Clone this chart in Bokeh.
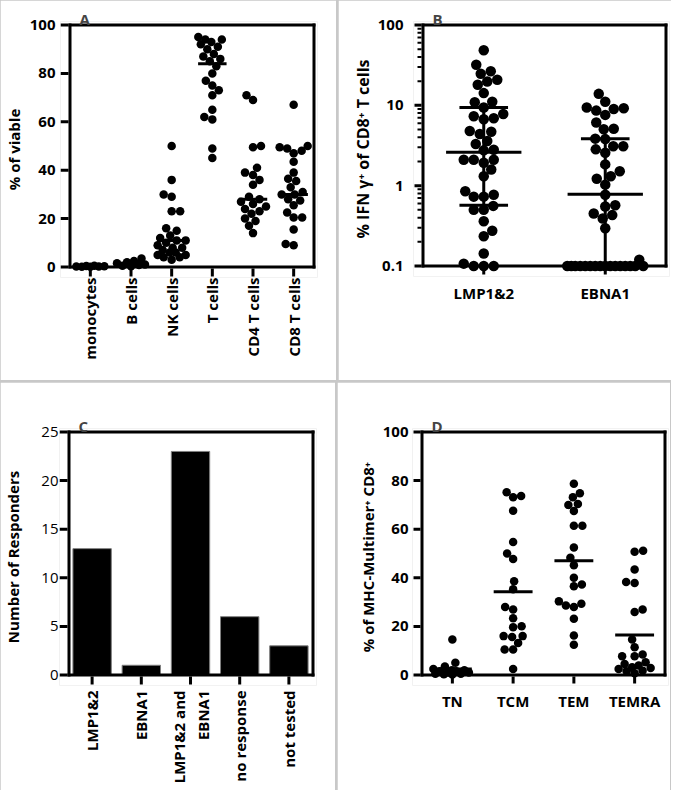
import numpy as np
from bokeh.plotting import figure
from bokeh.models import FixedTicker, Range1d
from bokeh.layouts import row, column
from bokeh.embed import file_html
from bokeh.resources import INLINE

FONT = "Open Sans"

# ---------------- Panel A data ----------------
cats_A = ["monocytes", "B cells", "NK cells", "T cells", "CD4 T cells", "CD8 T cells"]
monocytes = [0.5, 0.4, 0.3, 0.2, 0.2, 0.1, 0.1]
b_cells = [3.5, 2.5, 2.0, 1.5, 1.0, 0.8, 0.5, 0.3]
nk_cells = [50, 36, 30, 29, 23, 23, 16, 15, 13, 12, 11, 11, 10, 9, 8, 8, 7, 6, 6, 5, 5, 4, 4, 3]
t_cells = [95, 94, 94, 93, 92, 91, 90, 88, 87, 86, 85, 83, 80, 77, 75, 73, 71, 65, 62, 61, 49, 45]
cd4_t = [71, 69, 50, 49.5, 41, 39, 38, 36, 34, 29, 28, 27, 26, 25, 24, 23, 22, 20, 19, 17, 14]
cd8_t = [67, 50, 49.5, 49, 48, 47, 43.5, 39, 36.5, 35.5, 33, 31, 30, 30, 28, 27.5, 25.5, 22.5,
         20.5, 20.5, 15.5, 9.5, 9]
medians_A = [0.2, 1.0, 11, 84, 28, 30]
yticks_A = [0, 20, 40, 60, 80, 100]

# ---------------- Panel B data (log scale) ----------------
cats_B = ["LMP1&2", "EBNA1"]
lmp12 = [48.5, 32, 26.5, 24.7, 20.8, 19.8, 18, 14.2, 11.1, 10.9, 9.4, 7.8, 7.3, 6.9, 6.7, 4.8, 4.7,
         4.4, 3.6, 3.3, 2.8, 2.75, 2.1, 2.1, 2.1, 1.93, 1.59, 1.31, 0.85, 0.77, 0.73, 0.73, 0.56,
         0.5, 0.5, 0.36, 0.275, 0.235, 0.143, 0.107, 0.1, 0.1, 0.1]
ebna1 = [13.9, 11.1, 9.4, 9.2, 9.0, 8.6, 7.6, 6.1, 5.1, 5.05, 3.85, 3.8, 3.1, 3.1, 2.83, 2.57, 1.84,
         1.51, 1.31, 1.22, 1.03, 0.77, 0.57, 0.55, 0.45, 0.43, 0.39, 0.295, 0.12,
         0.1, 0.1, 0.1, 0.1, 0.1, 0.1, 0.1, 0.1, 0.1, 0.1, 0.1, 0.1, 0.1, 0.1, 0.1, 0.1]
medians_B = [2.6, 0.78]
q1_B = [0.57, 0.1]
q3_B = [9.4, 3.85]
yticks_B = [0.1, 1, 10, 100]
yticklabels_B = ["0.1", "1", "10", "100"]

# ---------------- Panel C data ----------------
cats_C = ["LMP1&2", "EBNA1", "LMP1&2 and\nEBNA1", "no response", "not tested"]
responders = [13, 1, 23, 6, 3]
yticks_C = [0, 5, 10, 15, 20, 25]

# ---------------- Panel D data ----------------
cats_D = ["TN", "TCM", "TEM", "TEMRA"]
tn = [14.6, 5.0, 3.5, 2.5, 2.0, 2.0, 1.5, 1.5, 1.0, 1.0, 0.5, 0.5, 0.3, 0.2]
tcm = [75.2, 73.7, 73.1, 67.6, 54.7, 50, 47.7, 38.6, 35.3, 28, 27, 23.4, 20.1, 19.7, 16, 16, 15.6,
       13.2, 10.5, 10.5, 2.5]
tem = [78.7, 74.8, 73.1, 70.4, 70, 67.5, 61.4, 61.4, 52.5, 48.2, 45.2, 40, 37.2, 36.5, 30.3, 29.3,
       28.6, 28, 23.1, 16.3, 12.4]
temra = [51.1, 50.7, 43.4, 38.3, 37.9, 27, 25.9, 14.6, 11.4, 8.4, 7.7, 7.7, 5.2, 4.5, 3.9, 3.2, 2.9,
         2.5, 1.8, 1.5, 0.7]
means_D = [2.5, 34.3, 47, 16.5]
yticks_D = [0, 20, 40, 60, 80, 100]


def swarm_offsets(ys, diam, max_half, step=0.5):
    """Deterministic beeswarm: horizontal pixel offsets for points at pixel heights ys."""
    order = sorted(range(len(ys)), key=lambda i: ys[i])
    cands = np.arange(-max_half, max_half + 1e-9, step)
    px, py = [], []
    out = [0.0] * len(ys)
    for i in order:
        y = ys[i]
        if px:
            ax, ay = np.array(px), np.array(py)
            dmin = np.array([np.min(np.hypot(c - ax, y - ay)) for c in cands])
            bal = int(np.sum(ax < -0.1) - np.sum(ax > 0.1))
        else:
            dmin = np.full(len(cands), np.inf)
            bal = 0
        ok = np.where(dmin >= diam)[0]
        if len(ok):
            k = min(ok, key=lambda k: (abs(cands[k]), (cands[k] < 0) if bal > 0 else (cands[k] > 0)))
        else:
            k = max(range(len(cands)), key=lambda k: (round(float(dmin[k]), 3), -abs(cands[k])))
        out[i] = float(cands[k])
        px.append(out[i])
        py.append(y)
    return out


class Panel:
    """A figure whose frame is padded around the drawn axis box, so that the box,
    its ticks and all points are drawn as glyphs through the figure's scales."""

    def __init__(self, letter, fig_w, fig_h, lx, rx, ty, by, xlim, ylim,
                 padL=9.5, padR=3.5, padT=3.5, padB=10.5):
        self.lx, self.rx, self.ty, self.by = lx, rx, ty, by
        self.fl, self.fr = lx - padL, rx + padR
        self.ft, self.fb = ty - padT, by + padB
        self.ppx = (rx - lx) / (xlim[1] - xlim[0])
        self.ppy = (by - ty) / (ylim[1] - ylim[0])
        self.xlim, self.ylim = xlim, ylim
        self.xs = xlim[0] - padL / self.ppx
        self.ys = ylim[0] - padB / self.ppy
        xe = xlim[1] + padR / self.ppx
        ye = ylim[1] + padT / self.ppy
        p = figure(frame_width=int(self.fr - self.fl), frame_height=int(self.fb - self.ft),
                   min_border_left=int(self.fl), min_border_right=int(fig_w - self.fr),
                   min_border_top=int(self.ft), min_border_bottom=int(fig_h - self.fb),
                   x_range=Range1d(self.xs, xe), y_range=Range1d(self.ys, ye),
                   output_backend="svg", toolbar_location=None, tools="", title=letter)
        p.xgrid.grid_line_color = None
        p.ygrid.grid_line_color = None
        p.outline_line_color = None
        p.title.text_font = FONT
        p.title.text_font_size = "15px"
        p.title.text_font_style = "bold"
        p.title.align = "left"
        p.title.offset = 19
        p.title.standoff = -15
        for ax in p.xaxis + p.yaxis:
            ax.major_label_text_font = FONT
            ax.major_label_text_font_size = "15px"
            ax.major_label_text_font_style = "bold"
            ax.major_label_text_color = "black"
            ax.axis_label_text_font = FONT
            ax.axis_label_text_font_size = "15px"
            ax.axis_label_text_font_style = "bold"
            ax.axis_label_text_color = "black"
            ax.axis_line_color = None
            ax.major_tick_line_color = None
            ax.major_tick_in = 0
            ax.major_tick_out = 0
            ax.minor_tick_line_color = None
        self.p = p
        self.rects = ([], [], [], [])

    # pixel <-> data (pixels are figure-local, y downwards)
    def X(self, px):
        return self.xs + (px - self.fl) / self.ppx

    def Y(self, py):
        return self.ys + (self.fb - py) / self.ppy

    def xp(self, x):
        return self.fl + (x - self.xs) * self.ppx

    def yp(self, y):
        return self.fb - (y - self.ys) * self.ppy

    def rect_px(self, x0, x1, y0, y1):
        L, R, B, T = self.rects
        L.append(self.X(x0))
        R.append(self.X(x1))
        T.append(self.Y(y0))
        B.append(self.Y(y1))

    def box_and_ticks(self, xticks, yticks, tick_len=7, minor=()):
        lx, rx, ty, by = self.lx, self.rx, self.ty, self.by
        self.rect_px(lx - 1.5, rx + 1.5, by - 1.5, by + 1.5)
        self.rect_px(lx - 1.5, rx + 1.5, ty - 1.5, ty + 1.5)
        self.rect_px(lx - 1.5, lx + 1.5, ty - 1.5, by + 1.5)
        self.rect_px(rx - 1.5, rx + 1.5, ty - 1.5, by + 1.5)
        for t in yticks:
            py = self.yp(t)
            self.rect_px(lx - 1.5 - tick_len, lx - 1.5, py - 1.5, py + 1.5)
        for m in minor:
            py = self.yp(m)
            self.rect_px(lx - 1.5 - 4, lx - 1.5, py - 1, py + 1)
        for c in xticks:
            px = self.xp(c)
            self.rect_px(px - 1.5, px + 1.5, by + 1.5, by + 1.5 + tick_len)

    def hbar_line(self, x, half, v, thick=3):
        px, py = self.xp(x), self.yp(v)
        self.rect_px(px - half * self.ppx, px + half * self.ppx, py - thick / 2, py + thick / 2)

    def vbar_line(self, x, v0, v1, thick=3):
        px = self.xp(x)
        self.rect_px(px - thick / 2, px + thick / 2, self.yp(v1), self.yp(v0))

    def scatter_groups(self, groups, diam, max_half):
        for i, vals in enumerate(groups):
            ys_px = [(v - self.ylim[0]) * self.ppy for v in vals]
            offs = swarm_offsets(ys_px, diam * 0.95, max_half)
            xs = [i + 1 + o / self.ppx for o in offs]
            self.p.scatter(xs, vals, size=diam, marker="circle", fill_color="black",
                           line_color=None)

    def finish(self):
        L, R, B, T = self.rects
        self.p.quad(left=L, right=R, bottom=B, top=T, fill_color="black", line_color=None)

    def axes(self, cats, yticks, ylabel, ylabels=None, vertical=False, x_standoff=5,
             y_standoff=5, ylab_standoff=3):
        xa, ya = self.p.xaxis[0], self.p.yaxis[0]
        xa.ticker = FixedTicker(ticks=list(range(1, len(cats) + 1)))
        xa.major_label_overrides = {i + 1: c for i, c in enumerate(cats)}
        xa.major_label_standoff = x_standoff
        if vertical:
            xa.major_label_orientation = np.pi / 2
        ya.ticker = FixedTicker(ticks=list(yticks))
        if ylabels is not None:
            ya.major_label_overrides = {t: l for t, l in zip(yticks, ylabels)}
        ya.major_label_standoff = y_standoff
        ya.axis_label = ylabel
        ya.axis_label_standoff = ylab_standoff
        return xa, ya


# ---------------- Panel A ----------------
A = Panel("A", 334, 380, 67.5, 311.5, 24.5, 266.5, (0.5, len(cats_A) + 0.5), (0, 100))
A.scatter_groups([monocytes, b_cells, nk_cells, t_cells, cd4_t, cd8_t], 8.5, 14)
for i, m in enumerate(medians_A):
    A.hbar_line(i + 1, 0.35, m)
A.box_and_ticks(range(1, len(cats_A) + 1), yticks_A, tick_len=8)
A.finish()
A.axes(cats_A, yticks_A, "% of viable", vertical=True, x_standoff=0, y_standoff=5,
       ylab_standoff=3)

# ---------------- Panel B (log10 values on a linear scale) ----------------
log_lmp = [float(np.log10(v)) for v in lmp12]
log_ebna = [float(np.log10(v)) for v in ebna1]
log_ticks_B = [float(np.log10(t)) for t in yticks_B]
minor_B = [float(np.log10(m * 10.0 ** k)) for k in (-1, 0, 1) for m in range(2, 10)]
B = Panel("B", 333, 380, 84.5, 327.5, 24.5, 265.5, (0.5, len(cats_B) + 0.5),
          (log_ticks_B[0], log_ticks_B[-1]))
B.scatter_groups([log_lmp, log_ebna], 10.5, 38)
for i in range(len(cats_B)):
    lq1, lq3 = float(np.log10(q1_B[i])), float(np.log10(q3_B[i]))
    B.vbar_line(i + 1, lq1, lq3)
    B.hbar_line(i + 1, 0.2, lq3)
    B.hbar_line(i + 1, 0.2, lq1)
    B.hbar_line(i + 1, 0.31, float(np.log10(medians_B[i])))
B.box_and_ticks(range(1, len(cats_B) + 1), log_ticks_B, tick_len=7, minor=minor_B)
B.finish()
B.axes(cats_B, log_ticks_B, "% IFN γ⁺ of CD8⁺ T cells", ylabels=yticklabels_B,
       x_standoff=6, y_standoff=10, ylab_standoff=1)
B.p.yaxis[0].axis_label_text_font_size = "16px"

# ---------------- Panel C ----------------
C = Panel("C", 334, 408, 67.5, 311.5, 49.5, 292.5, (0.53, 5.49), (0, 25))
C.p.vbar(x=list(range(1, len(cats_C) + 1)), top=responders, width=0.78, bottom=0,
         fill_color="black", line_color="#7f7f7f", line_width=1)
C.box_and_ticks(range(1, len(cats_C) + 1), yticks_C, tick_len=8)
C.finish()
xaC, yaC = C.axes(cats_C, yticks_C, "Number of Responders", vertical=True, x_standoff=5,
                  y_standoff=1, ylab_standoff=15)
yaC.major_label_text_font_style = "normal"

# ---------------- Panel D ----------------
D = Panel("D", 333, 408, 84.5, 327.5, 48.5, 291.5, (0.5, len(cats_D) + 0.5), (0, 100))
D.scatter_groups([tn, tcm, tem, temra], 8.5, 19)
for i, m in enumerate(means_D):
    D.hbar_line(i + 1, 0.32, m)
D.box_and_ticks(range(1, len(cats_D) + 1), yticks_D, tick_len=7)
D.finish()
D.axes(cats_D, yticks_D, "% of MHC-Multimer⁺ CD8⁺", x_standoff=5, y_standoff=4,
       ylab_standoff=2)

grey = {"background-color": "#c8c8c8"}
layout = column(row(A.p, B.p, spacing=2, styles=grey), row(C.p, D.p, spacing=2, styles=grey),
                spacing=2, styles=grey)

open("out.html", "w").write(file_html(layout, INLINE))
